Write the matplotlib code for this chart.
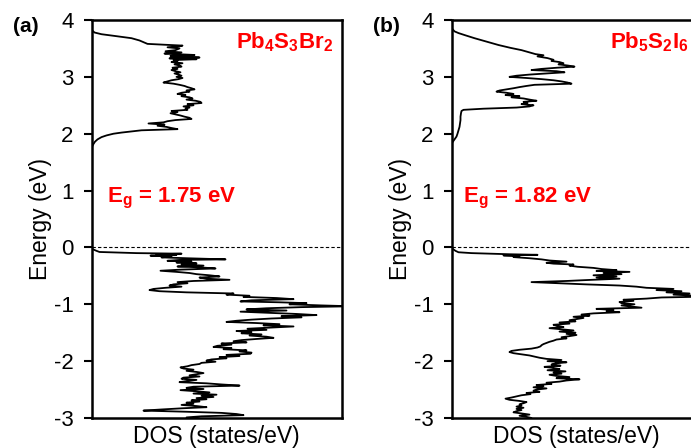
import matplotlib
matplotlib.use("Agg")
import matplotlib.pyplot as plt

plt.rcParams["font.family"] = ["Liberation Sans", "DejaVu Sans"]
plt.rcParams["mathtext.fontset"] = "custom"
plt.rcParams["mathtext.rm"] = "Liberation Sans"
plt.rcParams["mathtext.bf"] = "Liberation Sans:bold"
plt.rcParams["mathtext.it"] = "Liberation Sans:italic"
plt.rcParams["axes.unicode_minus"] = False

# ---- Pb4S3Br2: conduction band (energy in eV, DOS in states/eV) ----
a_cb_energy = [3.85, 3.82, 3.78, 3.75, 3.72, 3.68, 3.64, 3.61, 3.58, 3.565, 3.55, 3.54, 3.52, 3.50,
               3.47, 3.45, 3.43, 3.41, 3.40, 3.385, 3.37, 3.355, 3.34, 3.325, 3.31, 3.295, 3.28, 3.26,
               3.24, 3.22, 3.20, 3.18, 3.16, 3.14, 3.12, 3.10, 3.08, 3.06, 3.04, 3.02, 3.00, 2.98,
               2.96, 2.94, 2.92, 2.90, 2.88, 2.86, 2.84, 2.82, 2.80, 2.78, 2.76, 2.74, 2.72, 2.70,
               2.68, 2.66, 2.64, 2.62, 2.60, 2.58, 2.56, 2.54, 2.52, 2.50, 2.48, 2.46, 2.44, 2.42,
               2.40, 2.38, 2.36, 2.34, 2.32, 2.30, 2.28, 2.26, 2.24, 2.22, 2.20, 2.18, 2.16, 2.14,
               2.12, 2.10, 2.08, 2.06, 2.04, 2.02, 2.00, 1.97, 1.94, 1.90, 1.86, 1.82, 1.78, 1.75]
a_cb_dos = [0.0, 0.05, 0.3, 1.0, 2.3, 4.0, 4.8, 5.2, 5.6, 7.3, 9.1, 8.9, 7.6, 8.8,
            8.4, 7.4, 9.0, 7.3, 8.5, 10.3, 7.9, 9.5, 10.8, 7.8, 10.5, 8.2, 8.6, 8.0,
            9.1, 8.3, 8.8, 9.0, 8.1, 8.6, 8.0, 8.4, 8.9, 8.3, 8.7, 9.0, 8.5, 9.1,
            8.7, 8.0, 7.6, 7.2, 8.2, 8.8, 9.3, 9.6, 10.0, 10.3, 9.5, 9.8, 9.0, 8.6,
            9.4, 9.0, 9.8, 10.1, 9.5, 10.4, 10.9, 11.0, 9.6, 10.2, 9.2, 9.8, 9.4, 9.6,
            8.0, 8.6, 7.9, 8.4, 8.9, 9.3, 9.8, 10.0, 8.4, 7.6, 7.2, 5.7, 7.3, 6.6,
            7.5, 8.0, 8.6, 5.0, 4.0, 3.0, 2.2, 1.5, 1.0, 0.6, 0.35, 0.2, 0.08, 0.0]

# ---- Pb4S3Br2: valence band ----
a_vb_energy = [0.00, -0.03, -0.06, -0.08, -0.10, -0.11, -0.12, -0.13, -0.145, -0.16, -0.175, -0.19,
               -0.21, -0.22, -0.235, -0.25, -0.265, -0.28, -0.30, -0.32, -0.335, -0.35, -0.37, -0.39,
               -0.41, -0.43, -0.45, -0.47, -0.49, -0.51, -0.53, -0.55, -0.57, -0.59, -0.61, -0.63,
               -0.65, -0.67, -0.69, -0.71, -0.73, -0.75, -0.77, -0.79, -0.81, -0.83, -0.85, -0.87,
               -0.89, -0.91, -0.93, -0.95, -0.965, -0.98, -1.00, -1.02, -1.035, -1.05, -1.07, -1.09,
               -1.11, -1.13, -1.15, -1.17, -1.19, -1.21, -1.23, -1.25, -1.27, -1.29, -1.31, -1.33,
               -1.35, -1.37, -1.39, -1.41, -1.43, -1.45, -1.47, -1.49, -1.51, -1.53, -1.55, -1.57,
               -1.59, -1.61, -1.63, -1.65, -1.67, -1.69, -1.71, -1.73, -1.75, -1.77, -1.79, -1.81,
               -1.83, -1.85, -1.87, -1.89, -1.91, -1.93, -1.95, -1.97, -1.99, -2.01, -2.03, -2.05,
               -2.07, -2.09, -2.11, -2.13, -2.15, -2.17, -2.19, -2.21, -2.23, -2.25, -2.27, -2.29,
               -2.31, -2.33, -2.35, -2.37, -2.39, -2.41, -2.43, -2.45, -2.47, -2.49, -2.51, -2.53,
               -2.55, -2.57, -2.59, -2.61, -2.63, -2.65, -2.67, -2.69, -2.71, -2.73, -2.75, -2.77,
               -2.79, -2.81, -2.83, -2.85, -2.87, -2.89, -2.91, -2.93, -2.95, -2.97, -2.99, -3.01,
               -3.03]
a_vb_dos = [0.0, 0.1, 0.5, 0.8, 4.5, 9.0, 6.5, 8.5, 5.9, 8.0, 7.0, 9.5,
            13.4, 8.8, 7.6, 10.0, 8.5, 10.5, 9.0, 11.2, 8.6, 10.8, 12.4, 9.0,
            6.9, 8.5, 9.8, 10.5, 11.8, 12.8, 10.8, 11.5, 13.8, 10.2, 8.6, 9.6,
            8.2, 7.8, 9.0, 7.4, 6.2, 5.8, 6.8, 9.5, 14.2, 13.5, 15.8, 15.2,
            18.5, 20.2, 16.0, 14.9, 18.8, 21.5, 19.8, 23.0, 26.0, 21.0, 17.5, 15.5,
            19.5, 14.9, 17.8, 20.5, 22.5, 19.0, 21.0, 18.0, 16.0, 14.5, 13.5, 16.5,
            18.8, 17.2, 20.2, 18.0, 15.6, 17.5, 14.5, 16.0, 15.0, 17.0, 15.8, 17.5,
            18.2, 16.5, 15.0, 14.2, 15.5, 13.0, 14.0, 12.6, 12.2, 14.0, 13.2, 15.5,
            14.8, 16.0, 15.9, 13.5, 14.8, 12.8, 13.5, 12.0, 11.5, 12.4, 11.0, 10.8,
            10.0, 9.6, 8.9, 9.2, 10.2, 9.5, 10.5, 11.2, 10.5, 9.8, 10.8, 9.2,
            9.0, 10.5, 9.5, 8.8, 11.5, 13.0, 14.8, 10.2, 9.5, 11.2, 8.9, 10.5,
            11.8, 10.2, 12.5, 11.0, 12.2, 10.5, 11.5, 10.0, 10.8, 9.5, 10.2, 9.0,
            10.5, 11.5, 9.0, 7.0, 5.2, 9.5, 13.0, 14.5, 15.2, 11.0, 9.5, 10.8,
            9.8]

# ---- Pb5S2I6: conduction band ----
b_cb_energy = [3.88, 3.85, 3.80, 3.77, 3.73, 3.68, 3.62, 3.56, 3.51, 3.47, 3.43, 3.40, 3.38, 3.36,
               3.33, 3.30, 3.28, 3.26, 3.24, 3.22, 3.20, 3.18, 3.16, 3.14, 3.12, 3.10, 3.08, 3.06,
               3.04, 3.02, 3.00, 2.98, 2.96, 2.94, 2.92, 2.90, 2.88, 2.86, 2.84, 2.82, 2.80, 2.78,
               2.76, 2.74, 2.72, 2.70, 2.68, 2.66, 2.64, 2.62, 2.60, 2.58, 2.56, 2.54, 2.52, 2.50,
               2.48, 2.46, 2.44, 2.42, 2.40, 2.36, 2.30, 2.24, 2.18, 2.12, 2.06, 2.00, 1.95, 1.90,
               1.85, 1.82]
b_cb_dos = [0.0, 0.05, 0.3, 0.7, 1.4, 2.3, 3.5, 4.7, 5.9, 7.0, 7.8, 8.4, 9.2, 8.6,
            9.6, 10.2, 10.0, 10.8, 11.2, 10.7, 11.6, 12.3, 10.5, 9.0, 8.0, 10.5, 11.3, 9.5,
            7.8, 6.5, 5.8, 7.5, 9.0, 10.2, 11.0, 11.6, 12.0, 8.3, 7.5, 6.8, 6.2, 5.5,
            4.8, 4.5, 5.5, 6.2, 5.4, 6.8, 6.0, 7.2, 7.8, 8.5, 7.2, 7.6, 7.0, 8.2,
            7.8, 6.5, 3.2, 1.2, 1.0, 0.95, 0.9, 0.9, 0.85, 0.8, 0.7, 0.6, 0.5, 0.3,
            0.1, 0.0]

# ---- Pb5S2I6: valence band ----
b_vb_energy = [0.00, -0.03, -0.06, -0.085, -0.10, -0.11, -0.12, -0.13, -0.14, -0.155, -0.17, -0.19,
               -0.21, -0.23, -0.25, -0.27, -0.285, -0.30, -0.32, -0.34, -0.36, -0.38, -0.40, -0.415,
               -0.43, -0.45, -0.47, -0.49, -0.51, -0.53, -0.55, -0.57, -0.59, -0.61, -0.63, -0.65,
               -0.67, -0.69, -0.71, -0.73, -0.75, -0.77, -0.79, -0.81, -0.83, -0.85, -0.865, -0.88,
               -0.90, -0.92, -0.94, -0.96, -0.98, -1.00, -1.02, -1.04, -1.06, -1.08, -1.10, -1.12,
               -1.14, -1.16, -1.18, -1.20, -1.22, -1.24, -1.26, -1.28, -1.30, -1.32, -1.34, -1.36,
               -1.38, -1.40, -1.42, -1.44, -1.46, -1.48, -1.50, -1.52, -1.54, -1.56, -1.58, -1.60,
               -1.62, -1.64, -1.66, -1.68, -1.70, -1.72, -1.74, -1.76, -1.78, -1.80, -1.82, -1.84,
               -1.86, -1.88, -1.90, -1.92, -1.94, -1.96, -1.98, -2.00, -2.02, -2.04, -2.06, -2.08,
               -2.10, -2.12, -2.14, -2.16, -2.18, -2.20, -2.22, -2.24, -2.26, -2.28, -2.30, -2.32,
               -2.34, -2.36, -2.38, -2.40, -2.42, -2.44, -2.46, -2.48, -2.50, -2.52, -2.54, -2.56,
               -2.58, -2.60, -2.62, -2.64, -2.66, -2.68, -2.70, -2.72, -2.74, -2.76, -2.78, -2.80,
               -2.82, -2.84, -2.86, -2.88, -2.90, -2.92, -2.94, -2.96, -2.98, -3.00, -3.02]
b_vb_dos = [0.0, 0.15, 0.4, 0.7, 2.0, 4.0, 5.8, 8.6, 5.2, 6.8, 6.2, 7.8,
            9.0, 9.8, 11.5, 9.5, 10.2, 12.2, 11.8, 12.6, 14.2, 15.0, 16.5, 14.5,
            17.8, 15.2, 17.0, 14.2, 16.5, 14.5, 16.8, 14.0, 11.5, 8.0, 10.8, 13.5,
            16.8, 18.5, 19.5, 22.2, 20.5, 23.0, 21.5, 23.8, 22.2, 24.5, 25.5, 21.0,
            19.5, 17.2, 18.2, 16.8, 17.0, 18.3, 17.0, 18.0, 19.0, 14.5, 16.2, 15.5,
            16.8, 14.2, 13.0, 13.8, 12.2, 13.2, 12.5, 11.8, 12.4, 10.8, 11.8, 10.2,
            10.6, 11.2, 9.8, 11.0, 12.2, 10.8, 12.4, 11.5, 12.5, 11.8, 11.0, 11.5,
            10.5, 10.2, 9.8, 9.5, 9.2, 9.0, 8.9, 8.6, 8.0, 6.8, 6.0, 5.8,
            6.2, 7.0, 7.8, 8.3, 8.8, 9.5, 11.0, 9.6, 11.5, 10.4, 10.0, 10.9,
            9.3, 10.2, 10.8, 9.6, 11.4, 10.2, 11.0, 9.8, 10.5, 11.8, 10.5, 12.8,
            11.5, 10.8, 9.5, 10.0, 8.5, 9.2, 8.2, 9.5, 8.5, 8.2, 8.8, 7.5,
            7.9, 7.0, 6.5, 6.0, 5.4, 5.8, 6.8, 7.5, 7.2, 6.8, 7.0, 6.5,
            7.2, 6.5, 7.0, 6.5, 6.2, 7.0, 7.8, 6.8, 7.5, 8.0, 7.5]

panel_tags = ["(a)", "(b)"]
compounds = [r"$\mathbf{Pb_4S_3Br_2}$", r"$\mathbf{Pb_5S_2I_6}$"]
gaps = ["1.75", "1.82"]
yticks = [-3, -2, -1, 0, 1, 2, 3, 4]

W, H = 691, 448
fig = plt.figure(figsize=(W / 100, H / 100), dpi=100)

ax_w = 250 / W
ax_h = 398 / H
bottom = (H - 418) / H
lefts = [91.5 / W, 451.5 / W]
gap_x = [0.062, 0.045]
compound_x = [0.966, 0.95]

panels = [
    (a_cb_energy, a_cb_dos, a_vb_energy, a_vb_dos),
    (b_cb_energy, b_cb_dos, b_vb_energy, b_vb_dos),
]

for i, (cb_e, cb_d, vb_e, vb_d) in enumerate(panels):
    ax = fig.add_axes([lefts[i], bottom, ax_w, ax_h])
    ax.plot(cb_d, cb_e, color="black", lw=1.3)
    ax.plot(vb_d, vb_e, color="black", lw=1.3)
    ax.axhline(0, color="black", lw=0.8, ls=(0, (3, 2)))
    ax.set_xlim(0, 25)
    ax.set_ylim(-3, 4)
    ax.set_yticks(yticks)
    ax.set_xticks([])
    ax.tick_params(axis="y", direction="out", length=6, width=1.5, pad=7, labelsize=16)
    for sp in ax.spines.values():
        sp.set_linewidth(1.8)
    ax.set_ylabel("Energy (eV)", fontsize=16.5, labelpad=1)
    ax.set_xlabel("DOS (states/eV)", fontsize=16.5, labelpad=5)
    ax.text(compound_x[i], 0.975, compounds[i], transform=ax.transAxes, ha="right", va="top",
            color="red", fontsize=16)
    ax.text(gap_x[i] * 25, 0.87, r"$\mathbf{E_g}$" + " = " + gaps[i] + " eV", ha="left",
            va="center", color="red", fontsize=16, fontweight="bold")
    fig.text((lefts[i] * W - 79) / W, (H - 27) / H, panel_tags[i], ha="left", va="center",
             fontsize=15, fontweight="bold")

fig.savefig("out.png", dpi=100)
